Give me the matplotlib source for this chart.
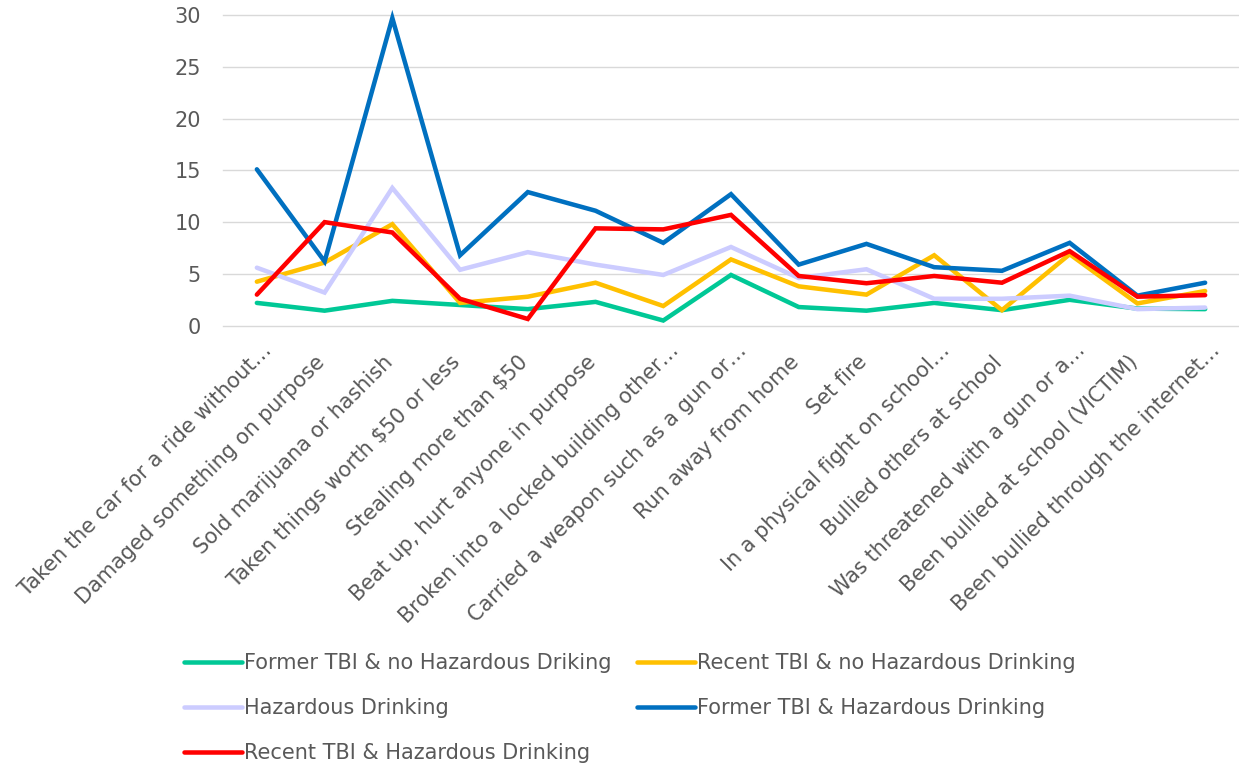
import matplotlib
matplotlib.use("Agg")
import matplotlib.pyplot as plt
import matplotlib.transforms as mtransforms

categories = [
    "Taken the car for a ride without…",
    "Damaged something on purpose",
    "Sold marijuana or hashish",
    "Taken things worth \\$50 or less",
    "Stealing more than \\$50",
    "Beat up, hurt anyone in purpose",
    "Broken into a locked building other…",
    "Carried a weapon such as a gun or…",
    "Run away from home",
    "Set fire",
    "In a physical fight on school…",
    "Bullied others at school",
    "Was threatened with a gun or a…",
    "Been bullied at school (VICTIM)",
    "Been bullied through the internet…",
]

former_no_hd = [2.2, 1.45, 2.4, 2.0, 1.6, 2.3, 0.5, 4.9, 1.8, 1.45, 2.2, 1.5, 2.5, 1.65, 1.6]
recent_no_hd = [4.25, 6.1, 9.8, 2.2, 2.8, 4.15, 1.9, 6.4, 3.8, 3.0, 6.8, 1.5, 6.9, 2.15, 3.35]
hazardous = [5.6, 3.2, 13.3, 5.4, 7.1, 5.9, 4.9, 7.6, 4.6, 5.45, 2.6, 2.6, 2.9, 1.6, 1.75]
former_hd = [15.1, 6.2, 29.7, 6.8, 12.9, 11.1, 8.0, 12.7, 5.9, 7.9, 5.65, 5.3, 8.0, 2.9, 4.15]
recent_hd = [3.0, 10.0, 9.0, 2.6, 0.65, 9.4, 9.3, 10.7, 4.8, 4.1, 4.8, 4.15, 7.2, 2.8, 2.95]

series = [
    ("Former TBI & no Hazardous Driking", former_no_hd, "#00C896"),
    ("Recent TBI & no Hazardous Drinking", recent_no_hd, "#FFC000"),
    ("Hazardous Drinking", hazardous, "#CCCCFF"),
    ("Former TBI & Hazardous Drinking", former_hd, "#0070C0"),
    ("Recent TBI & Hazardous Drinking", recent_hd, "#FF0000"),
]

text_color = "#595959"
fs = 15
plt.rcParams["font.family"] = ["DejaVu Sans"]
plt.rcParams["font.size"] = fs

fig = plt.figure(figsize=(12.39, 7.67), dpi=100)
ax = fig.add_axes([223 / 1239, 1 - 325.7 / 767, 1 - 223 / 1239, (325.7 - 15) / 767])

x = list(range(len(categories)))
lines = {}
for name, vals, color in series:
    (ln,) = ax.plot(x, vals, color=color, lw=3.25, solid_joinstyle="miter",
                    solid_capstyle="round", label=name, clip_on=False)
    lines[name] = ln

ax.set_xlim(-0.5, len(categories) - 0.5)
ax.set_ylim(0, 30)
ax.set_yticks(range(0, 31, 5))
ax.yaxis.grid(True, color="#D9D9D9", lw=1.0)
ax.set_axisbelow(True)
for gl in ax.get_ygridlines():
    gl.set_clip_on(False)
for s in ax.spines.values():
    s.set_visible(False)
ax.tick_params(axis="both", length=0, colors=text_color, labelsize=fs)
ax.tick_params(axis="y", pad=16)

ax.set_xticks(x)
ax.set_xticklabels(categories, rotation=45, ha="right", va="center",
                   rotation_mode="anchor")
ax.tick_params(axis="x", pad=24)
# truncated labels sit a little further along their own direction
for lab in ax.get_xticklabels():
    if lab.get_text().endswith("…"):
        dx, dy = 12, 12
    else:
        dx, dy = -3, 0
    shift = mtransforms.ScaledTranslation(dx / 100, dy / 100, fig.dpi_scale_trans)
    lab.set_transform(lab.get_transform() + shift)

# legend: two columns, filled column by column
order = [0, 2, 4, 1, 3]
handles = [lines[series[i][0]] for i in order]
labels = [series[i][0] for i in order]
leg = fig.legend(handles, labels, ncol=2, loc="upper left",
                 bbox_to_anchor=(184 / 1239, 1 - 653 / 767),
                 frameon=False, borderpad=0, borderaxespad=0,
                 handlelength=2.8, handletextpad=0.1, columnspacing=1.18,
                 labelspacing=1.21, fontsize=fs)
for t in leg.get_texts():
    t.set_color(text_color)

fig.savefig("out.png", dpi=100)
